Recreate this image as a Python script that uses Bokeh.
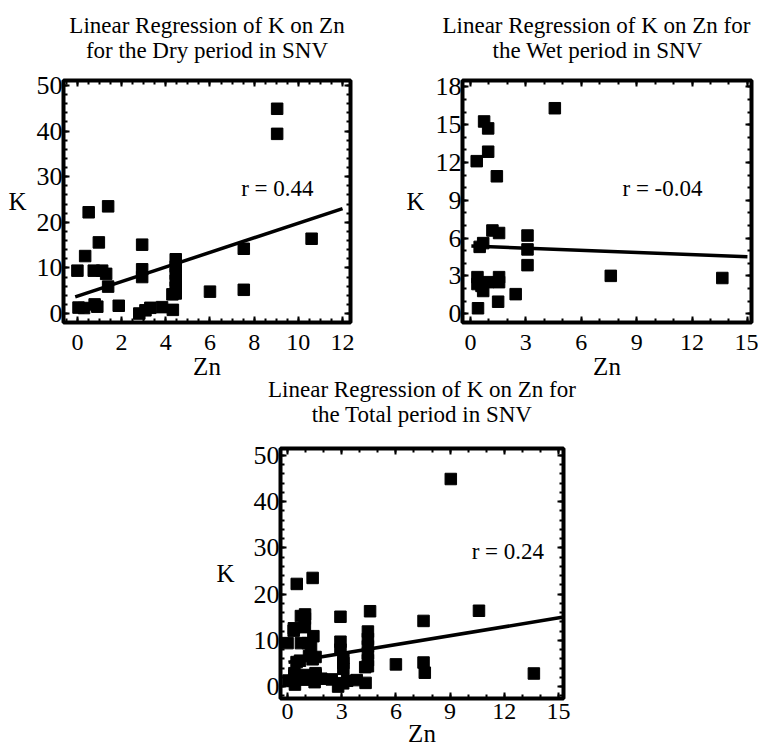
from bokeh.plotting import figure
from bokeh.layouts import column, row
from bokeh.models import Range1d, SingleIntervalTicker, LinearAxis, Label, ColumnDataSource, Title
from bokeh.embed import file_html
from bokeh.resources import INLINE

FONT = "Liberation Serif"

# ---------------- data ----------------
dry_zn = [0.51, 1.39, 0.97, 0.35, 0.0, 0.74, 1.12, 1.30, 1.39, 0.05, 0.30, 0.78, 0.90,
          1.87, 2.93, 2.93, 2.93, 2.80, 3.08, 3.30, 3.83, 4.32, 4.45, 4.45, 4.45, 4.45,
          4.45, 4.45, 4.30, 6.00, 7.53, 7.53, 9.04, 9.04, 10.60]
dry_k = [22.2, 23.5, 15.6, 12.6, 9.4, 9.4, 9.4, 8.7, 5.9, 1.3, 1.2, 2.0, 1.5,
         1.7, 15.1, 9.7, 8.0, 0.0, 0.7, 1.25, 1.4, 0.8, 11.9, 10.3, 8.7, 7.2,
         5.7, 4.4, 4.2, 4.8, 14.2, 5.2, 44.9, 39.4, 16.4]

wet_zn = [4.57, 0.74, 0.96, 0.96, 0.34, 1.43, 1.19, 1.55, 3.09, 3.09, 3.09, 0.69, 0.50,
          0.38, 0.38, 0.69, 0.96, 0.60, 1.55, 1.55, 2.45, 1.50, 0.41, 7.60, 13.64]
wet_k = [16.3, 15.25, 14.7, 12.85, 12.1, 10.9, 6.6, 6.4, 6.2, 5.1, 3.85, 5.6, 5.3,
         2.9, 2.35, 1.8, 2.5, 2.2, 2.9, 2.5, 1.55, 0.95, 0.43, 3.0, 2.83]

total_zn = [0.51, 1.39, 0.97, 0.35, 0.0, 0.74, 1.12, 1.30, 1.39, 0.05, 0.30, 0.78, 0.90,
            1.87, 2.93, 2.93, 2.93, 2.80, 3.08, 3.30, 3.83, 4.32, 4.45, 4.45, 4.45, 4.45,
            4.45, 4.45, 4.30, 6.00, 7.53, 7.53, 9.04, 10.60,
            4.57, 0.74, 0.96, 0.96, 0.34, 1.43, 1.19, 1.55, 3.09, 3.09, 3.09, 0.69, 0.50,
            0.38, 0.38, 0.69, 0.96, 0.60, 1.55, 1.55, 2.45, 1.50, 0.41, 7.60, 13.64]
total_k = [22.2, 23.5, 15.6, 12.6, 9.4, 9.4, 9.4, 8.7, 5.9, 1.3, 1.2, 2.0, 1.5,
           1.7, 15.1, 9.7, 8.0, 0.0, 0.7, 1.25, 1.4, 0.8, 11.9, 10.3, 8.7, 7.2,
           5.7, 4.4, 4.2, 4.8, 14.2, 5.2, 44.9, 16.4,
           16.3, 15.25, 14.7, 12.85, 12.1, 10.9, 6.6, 6.4, 6.2, 5.1, 3.85, 5.6, 5.3,
           2.9, 2.35, 1.8, 2.5, 2.2, 2.9, 2.5, 1.55, 0.95, 0.43, 3.0, 2.83]

# regression lines: intercept, slope, x extent
dry_fit = [3.8, 1.60]
dry_fit_x = [-0.1, 12.0]
wet_fit = [5.37, -0.057]
wet_fit_x = [0.05, 15.0]
total_fit = [5.25, 0.64]
total_fit_x = [0.05, 15.2]

r_texts = ["r = 0.44", "r = -0.04", "r = 0.24"]
r_pos = [(9.05, 27.4), (10.4, 9.95), (12.2, 29.2)]

title_lines = [["Linear Regression of K on Zn", "for the Dry period in SNV"],
               ["Linear Regression of K on Zn for", "the Wet period in SNV"],
               ["Linear Regression of K on Zn for", "the Total period in SNV"]]


def make_panel(lines, zn, k, fit, fit_x, r_text, rp, xr, yr, xint, xminor, yint, yminor,
               width, height, mb_left, mb_right, mb_top, mb_bottom, k_standoff,
               top_gap=18, title_align=("center", "center"), title_offset=(0, 0),
               x_tick_standoff=12, x_label_standoff=0):
    p = figure(width=width, height=height, x_range=Range1d(*xr), y_range=Range1d(*yr),
               output_backend="svg", toolbar_location=None,
               min_border_left=mb_left, min_border_right=mb_right,
               min_border_top=mb_top, min_border_bottom=mb_bottom)
    p.background_fill_color = "white"
    p.border_fill_color = "white"
    p.xgrid.visible = False
    p.ygrid.visible = False
    p.outline_line_color = "black"
    p.outline_line_width = 4
    p.outline_line_alpha = 1.0
    p.title.visible = False

    xt = SingleIntervalTicker(interval=xint, num_minor_ticks=xminor)
    yt = SingleIntervalTicker(interval=yint, num_minor_ticks=yminor)

    def style(ax, labels=True):
        ax.axis_line_color = None
        ax.major_tick_in = 6
        ax.major_tick_out = 0
        ax.major_tick_line_width = 2
        ax.major_tick_line_color = "black"
        ax.minor_tick_in = 4
        ax.minor_tick_out = 0
        ax.minor_tick_line_width = 2
        ax.minor_tick_line_color = "black"
        if labels:
            ax.major_label_text_font = FONT
            ax.major_label_text_color = "black"
            ax.axis_label_text_font = FONT
            ax.axis_label_text_font_size = "25px"
            ax.axis_label_text_font_style = "normal"
            ax.axis_label_text_color = "black"
        else:
            ax.major_label_text_font_size = "1px"
            ax.major_label_text_color = None
            ax.major_label_standoff = 0

    xa = p.xaxis[0]
    xa.ticker = xt
    xa.axis_label = "Zn"
    style(xa)
    xa.major_label_text_font_size = "24px"
    xa.major_label_standoff = x_tick_standoff
    xa.axis_label_standoff = x_label_standoff

    ya = p.yaxis[0]
    ya.ticker = yt
    ya.axis_label = "K"
    ya.axis_label_orientation = "horizontal"
    style(ya)
    ya.major_label_text_font_size = "26px"
    ya.major_label_standoff = 1
    ya.axis_label_standoff = k_standoff

    # frame ticks on the top and right edges (no labels)
    top = LinearAxis(ticker=SingleIntervalTicker(interval=xint, num_minor_ticks=xminor))
    style(top, labels=False)
    p.add_layout(top, "above")
    right = LinearAxis(ticker=SingleIntervalTicker(interval=yint, num_minor_ticks=yminor))
    style(right, labels=False)
    p.add_layout(right, "right")

    # invisible spacer between the frame and the title lines
    spacer = LinearAxis(ticker=SingleIntervalTicker(interval=xint, num_minor_ticks=0))
    spacer.axis_line_color = None
    spacer.major_tick_in = 0
    spacer.major_tick_out = top_gap
    spacer.minor_tick_in = 0
    spacer.minor_tick_out = 0
    spacer.major_tick_line_alpha = 0
    spacer.minor_tick_line_alpha = 0
    spacer.major_label_text_font_size = "1px"
    spacer.major_label_text_color = None
    spacer.major_label_standoff = 0
    p.add_layout(spacer, "above")

    # title lines: the one added first sits nearest the frame
    t2 = Title(text=lines[1], text_font=FONT, text_font_size="23px", text_font_style="normal",
               text_color="black", align=title_align[1], offset=title_offset[1], standoff=0)
    p.add_layout(t2, "above")
    t1 = Title(text=lines[0], text_font=FONT, text_font_size="23px", text_font_style="normal",
               text_color="black", align=title_align[0], offset=title_offset[0], standoff=-4)
    p.add_layout(t1, "above")

    src = ColumnDataSource(dict(zn=zn, k=k))
    p.scatter("zn", "k", source=src, marker="square", size=11.5,
              fill_color="black", line_color="black")
    fy = [fit[0] + fit[1] * x for x in fit_x]
    p.line(fit_x, fy, line_color="black", line_width=3.5)

    p.add_layout(Label(x=rp[0], y=rp[1], text=r_text, text_font=FONT,
                       text_font_size="23px", text_align="center",
                       text_baseline="middle", text_color="black"))
    return p


p1 = make_panel(title_lines[0], dry_zn, dry_k, dry_fit, dry_fit_x, r_texts[0], r_pos[0],
                (-0.63, 12.36), (-1.97, 51.1), 2, 4, 10, 5,
                width=369, height=390, mb_left=63, mb_right=19, mb_top=80, mb_bottom=68,
                k_standoff=7)
p2 = make_panel(title_lines[1], wet_zn, wet_k, wet_fit, wet_fit_x, r_texts[1], r_pos[1],
                (-0.43, 15.22), (-0.7, 18.5), 3, 3, 3, 3,
                width=389, height=390, mb_left=93, mb_right=7, mb_top=80, mb_bottom=68,
                k_standoff=8, title_align=("left", "left"), title_offset=(-20, 30))
p3 = make_panel(title_lines[2], total_zn, total_k, total_fit, total_fit_x, r_texts[2], r_pos[2],
                (-0.39, 15.28), (-2.58, 51.5), 3, 3, 10, 5,
                width=758, height=384, mb_left=280, mb_right=195, mb_top=82, mb_bottom=52,
                k_standoff=16, top_gap=22, x_tick_standoff=5, x_label_standoff=-2)
# the lower panel's empty top border overlaps the upper row's empty bottom border
p3.border_fill_color = None
p3.margin = (-24, 0, 0, 0)

layout = column(row(p1, p2), p3)
open("out.html", "w").write(file_html(layout, INLINE))
